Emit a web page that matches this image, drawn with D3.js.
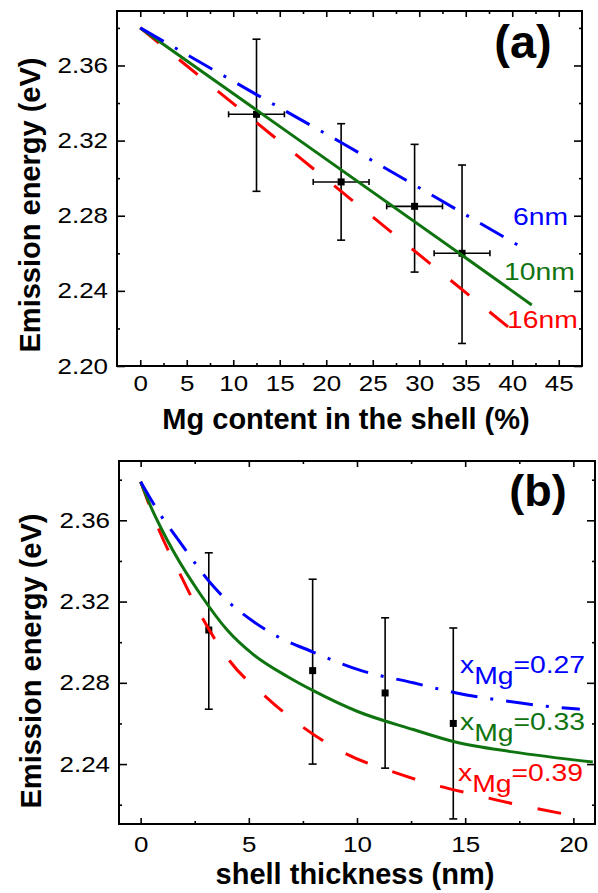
<!DOCTYPE html>
<html>
<head>
<meta charset="utf-8">
<script src="https://cdn.jsdelivr.net/npm/d3@7"></script>
<style>
  body { margin: 0; background: #fff; }
  svg { display: block; }
  .tick text { font-family: "Liberation Sans", Arial, sans-serif; font-size: 22px; fill: #000; }
  .tick line { stroke: #000; stroke-width: 1.6; }
  .title { font-family: "Liberation Sans", Arial, sans-serif; font-weight: bold; font-size: 29px; fill: #000; }
  .tag { font-family: "Liberation Sans", Arial, sans-serif; font-weight: bold; fill: #000; }
  .lab { font-family: "Liberation Sans", Arial, sans-serif; font-size: 24px; }
</style>
</head>
<body>
<div id="chart"></div>
<script>
// ---- panel (a): emission energy vs Mg content ----
const mgContent = [12.5, 21.6, 29.5, 34.6];
const mgEnergy  = [2.334, 2.298, 2.285, 2.260];
const mgErrHi   = [2.374, 2.329, 2.318, 2.307];
const mgErrLo   = [2.293, 2.267, 2.250, 2.212];
const mgXErr    = [3, 3, 3, 3];

const a6x  = [0, 12.5, 21.6, 41.6];
const a6y  = [2.380, 2.3445, 2.319, 2.2615];
const a10x = [0, 34.6, 42.1];
const a10y = [2.380, 2.259, 2.2325];
const a16x = [0, 12.5, 40.4];
const a16y = [2.380, 2.3296, 2.2174];

// ---- panel (b): emission energy vs shell thickness ----
const shellT      = [3.15, 7.95, 11.3, 14.45];
const shellEnergy = [2.306, 2.286, 2.275, 2.260];
const shellErrHi  = [2.344, 2.331, 2.312, 2.307];
const shellErrLo  = [2.267, 2.240, 2.238, 2.213];

const b27x = [0, 0.9, 1.7, 3.4, 5.8, 8.0, 10.2, 12.6, 14.6, 16.9, 19.2, 20.3];
const b27y = [2.379, 2.363, 2.351, 2.327, 2.306, 2.295, 2.286, 2.280, 2.275, 2.271, 2.268, 2.267];
const b33x = [0, 0.5, 1.0, 1.5, 2.8, 4.0, 5.2, 6.8, 8.0, 10.0, 12.6, 14.5, 17.2, 20.9];
const b33y = [2.379, 2.366, 2.355, 2.345, 2.323, 2.306, 2.294, 2.283, 2.276, 2.266, 2.257, 2.251, 2.246, 2.241];
const b39x = [0, 0.9, 1.8, 2.8, 4.1, 5.8, 7.4, 9.5, 11.7, 13.5, 15.4, 17.2, 19.8];
const b39y = [2.379, 2.354, 2.334, 2.313, 2.291, 2.273, 2.259, 2.245, 2.236, 2.230, 2.225, 2.2205, 2.215];

const aXTicks = [0, 5, 10, 15, 20, 25, 30, 35, 40, 45];
const aXMinor = [2.5, 7.5, 12.5, 17.5, 22.5, 27.5, 32.5, 37.5, 42.5];
const aYTicks = [2.20, 2.24, 2.28, 2.32, 2.36];
const aYMinor = [2.22, 2.26, 2.30, 2.34, 2.38];
const bXTicks = [0, 5, 10, 15, 20];
const bXMinor = [2.5, 7.5, 12.5, 17.5];
const bYTicks = [2.24, 2.28, 2.32, 2.36];
const bYMinor = [2.22, 2.26, 2.30, 2.34, 2.38];

const blue = "#0000ff", green = "#0f740f", red = "#ff0000";
const sx = 1.18; // the lettering in the reference is stretched horizontally

const svg = d3.select("#chart").append("svg")
  .attr("width", 598)
  .attr("height", 893);

function axes(g, x, y, o) {
  const [xl, xr] = x.range();
  const [yb, yt] = y.range();

  g.append("g").attr("transform", `translate(0,${yb})`)
    .call(d3.axisBottom(x).tickValues(o.xMajor).tickSizeInner(-6).tickSizeOuter(0)
      .tickPadding(o.xPad).tickFormat(d3.format("d")));
  g.append("g").attr("transform", `translate(0,${yb})`)
    .call(d3.axisBottom(x).tickValues(o.xMinor).tickSizeInner(-3).tickSizeOuter(0).tickFormat(""));
  g.append("g").attr("transform", `translate(0,${yt})`)
    .call(d3.axisTop(x).tickValues(o.xMajor).tickSizeInner(-6).tickSizeOuter(0).tickFormat(""));
  g.append("g").attr("transform", `translate(0,${yt})`)
    .call(d3.axisTop(x).tickValues(o.xMinor).tickSizeInner(-3).tickSizeOuter(0).tickFormat(""));

  const left = g.append("g").attr("transform", `translate(${xl},0)`)
    .call(d3.axisLeft(y).tickValues(o.yMajor).tickSizeInner(-8).tickSizeOuter(0)
      .tickFormat(d3.format(".2f")));
  left.selectAll("text").attr("x", -9 / sx);
  g.append("g").attr("transform", `translate(${xl},0)`)
    .call(d3.axisLeft(y).tickValues(o.yMinor).tickSizeInner(-3).tickSizeOuter(0).tickFormat(""));
  g.append("g").attr("transform", `translate(${xr},0)`)
    .call(d3.axisRight(y).tickValues(o.yMajor).tickSizeInner(-8).tickSizeOuter(0).tickFormat(""));
  g.append("g").attr("transform", `translate(${xr},0)`)
    .call(d3.axisRight(y).tickValues(o.yMinor).tickSizeInner(-3).tickSizeOuter(0).tickFormat(""));

  g.selectAll(".domain").remove();
  g.selectAll(".tick text").attr("transform", `scale(${sx},1)`);

  g.append("rect")
    .attr("x", xl).attr("y", yt)
    .attr("width", xr - xl).attr("height", yb - yt)
    .attr("fill", "none").attr("stroke", "#000").attr("stroke-width", 2);
}

function curve(g, x, y, xs, ys, color, dash, smooth) {
  const line = d3.line()
    .x(d => x(d[0]))
    .y(d => y(d[1]))
    .curve(smooth ? d3.curveMonotoneX : d3.curveLinear);
  g.append("path")
    .datum(d3.zip(xs, ys))
    .attr("fill", "none")
    .attr("stroke", color)
    .attr("stroke-width", 3)
    .attr("stroke-dasharray", dash)
    .attr("d", line);
}

function points(g, x, y, xs, ys, lo, hi, xerr) {
  const eb = g.append("g").attr("stroke", "#000").attr("stroke-width", 1.6);
  xs.forEach((v, i) => {
    const cx = x(v);
    eb.append("line").attr("x1", cx).attr("x2", cx).attr("y1", y(lo[i])).attr("y2", y(hi[i]));
    eb.append("line").attr("x1", cx - 4).attr("x2", cx + 4).attr("y1", y(lo[i])).attr("y2", y(lo[i]));
    eb.append("line").attr("x1", cx - 4).attr("x2", cx + 4).attr("y1", y(hi[i])).attr("y2", y(hi[i]));
    if (xerr) {
      const cy = y(ys[i]);
      const x0 = x(v - xerr[i]), x1 = x(v + xerr[i]);
      eb.append("line").attr("x1", x0).attr("x2", x1).attr("y1", cy).attr("y2", cy);
      eb.append("line").attr("x1", x0).attr("x2", x0).attr("y1", cy - 3).attr("y2", cy + 3);
      eb.append("line").attr("x1", x1).attr("x2", x1).attr("y1", cy - 3).attr("y2", cy + 3);
    }
  });
  g.selectAll(null)
    .data(d3.zip(xs, ys))
    .join("rect")
    .attr("x", d => x(d[0]) - 3.5)
    .attr("y", d => y(d[1]) - 3.5)
    .attr("width", 7).attr("height", 7)
    .attr("fill", "#000");
}

function yTitle(cx, cy) {
  svg.append("text").attr("class", "title")
    .attr("transform", `translate(${cx},${cy}) rotate(-90)`)
    .attr("text-anchor", "middle")
    .text("Emission energy (eV)");
}

function label(x0, y0, txt, color) {
  svg.append("text").attr("class", "lab")
    .attr("transform", `translate(${x0},${y0}) scale(${sx},1)`)
    .attr("fill", color)
    .text(txt);
}

function xMgLabel(x0, y0, val, color) {
  const t = svg.append("text").attr("class", "lab")
    .attr("transform", `translate(${x0},${y0}) scale(${sx},1)`)
    .attr("fill", color);
  t.append("tspan").text("x");
  t.append("tspan").attr("dy", 11).text("Mg");
  t.append("tspan").attr("dy", -11).text("=" + val);
}

// ---- panel (a) ----
const xA = d3.scaleLinear().domain([-2.5, 47.5]).range([117, 582]);
const yA = d3.scaleLinear().domain([2.20, 2.389]).range([366, 11]);
const gA = svg.append("g");
axes(gA, xA, yA, { xMajor: aXTicks, xMinor: aXMinor, yMajor: aYTicks, yMinor: aYMinor, xPad: 9 });
points(gA, xA, yA, mgContent, mgEnergy, mgErrLo, mgErrHi, mgXErr);
curve(gA, xA, yA, a16x, a16y, red, "24,26", false);
curve(gA, xA, yA, a10x, a10y, green, null, false);
curve(gA, xA, yA, a6x, a6y, blue, "27,13,3,13", false);

label(513, 225, "6nm", blue);
label(504, 280, "10nm", green);
label(507, 328, "16nm", red);

svg.append("text").attr("class", "tag").attr("font-size", 47)
  .attr("x", 523).attr("y", 58).attr("text-anchor", "middle").text("(a)");
svg.append("text").attr("class", "title")
  .attr("x", 346).attr("y", 429).attr("text-anchor", "middle")
  .text("Mg content in the shell (%)");
yTitle(40, 205);

// ---- panel (b) ----
const xB = d3.scaleLinear().domain([-1, 21]).range([119, 595]);
const yB = d3.scaleLinear().domain([2.2105, 2.3892]).range([824, 461]);
const gB = svg.append("g");
axes(gB, xB, yB, { xMajor: bXTicks, xMinor: bXMinor, yMajor: bYTicks, yMinor: bYMinor, xPad: 12 });
points(gB, xB, yB, shellT, shellEnergy, shellErrLo, shellErrHi, null);
curve(gB, xB, yB, b39x, b39y, red, "24,26", true);
curve(gB, xB, yB, b33x, b33y, green, null, true);
curve(gB, xB, yB, b27x, b27y, blue, "27,13,3,13", true);

xMgLabel(460, 673, "0.27", blue);
xMgLabel(460, 730, "0.33", green);
xMgLabel(458, 781, "0.39", red);

svg.append("text").attr("class", "tag").attr("font-size", 45)
  .attr("x", 538).attr("y", 506).attr("text-anchor", "middle").text("(b)");
svg.append("text").attr("class", "title")
  .attr("x", 355).attr("y", 884).attr("text-anchor", "middle")
  .text("shell thickness (nm)");
yTitle(41, 661);
</script>
</body>
</html>
